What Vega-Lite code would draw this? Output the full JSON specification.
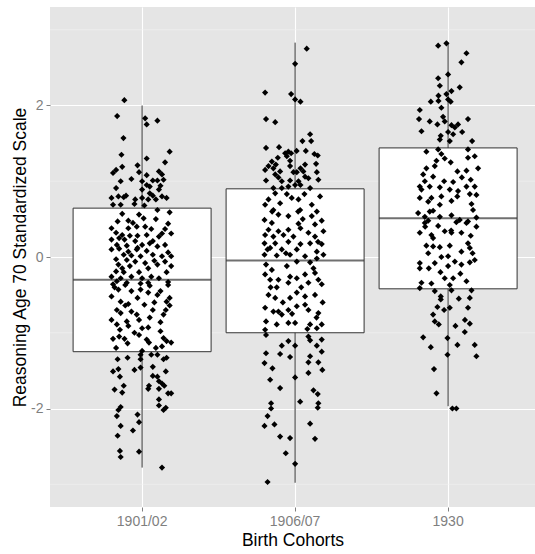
{
  "$schema": "https://vega.github.io/schema/vega-lite/v6.json",
  "width": 485,
  "height": 500,
  "autosize": {"type": "none"},
  "padding": {"left": 50, "top": 7, "right": 0, "bottom": 47},
  "background": "white",
  "config": {"view": {"fill": "#E5E5E5", "stroke": null}, "font": "Liberation Sans"},
  "datasets": {
    "minor": [{"m": -3}, {"m": -1}, {"m": 1}, {"m": 3}],
    "stats": [
      {"c": "1901/02", "lo": -2.78, "q1": -1.25, "med": -0.30, "q3": 0.645, "hi": 2.0},
      {"c": "1906/07", "lo": -2.98, "q1": -1.0, "med": -0.045, "q3": 0.9, "hi": 2.83},
      {"c": "1930", "lo": -1.97, "q1": -0.42, "med": 0.51, "q3": 1.44, "hi": 2.83}
    ],
    "pts": [
      {"c":"1901/02","j":-0.116,"v":2.07},{"c":"1901/02","j":-0.163,"v":1.86},{"c":"1901/02","j":0.02,"v":1.83},{"c":"1901/02","j":0.03,"v":1.75},{"c":"1901/02","j":0.10,"v":1.80},{"c":"1901/02","j":-0.122,"v":1.57},{"c":"1901/02","j":0.18,"v":1.39},{"c":"1901/02","j":-0.135,"v":1.35},{"c":"1901/02","j":0.03,"v":1.30},{"c":"1901/02","j":0.15,"v":1.25},{"c":"1901/02","j":-0.03,"v":1.21},{"c":"1901/02","j":-0.13,"v":1.19},{"c":"1901/02","j":-0.17,"v":1.15},{"c":"1901/02","j":-0.19,"v":1.11},{"c":"1901/02","j":-0.02,"v":1.12},{"c":"1901/02","j":0.11,"v":1.13},{"c":"1901/02","j":0.13,"v":1.09},{"c":"1901/02","j":0.03,"v":1.08},{"c":"1901/02","j":-0.14,"v":1.00},{"c":"1901/02","j":-0.07,"v":1.03},{"c":"1901/02","j":0.0,"v":1.00},{"c":"1901/02","j":0.07,"v":1.01},{"c":"1901/02","j":0.10,"v":1.01},{"c":"1901/02","j":0.14,"v":1.02},{"c":"1901/02","j":0.03,"v":0.95},{"c":"1901/02","j":0.05,"v":0.93},{"c":"1901/02","j":0.12,"v":0.94},{"c":"1901/02","j":-0.17,"v":0.91},{"c":"1901/02","j":0.0,"v":0.89},{"c":"1901/02","j":0.05,"v":0.84},{"c":"1901/02","j":0.11,"v":0.89},{"c":"1901/02","j":0.07,"v":0.81},{"c":"1901/02","j":0.13,"v":0.80},{"c":"1901/02","j":0.16,"v":0.78},{"c":"1901/02","j":-0.20,"v":0.78},{"c":"1901/02","j":-0.155,"v":0.80},{"c":"1901/02","j":-0.12,"v":0.79},{"c":"1901/02","j":-0.105,"v":0.81},{"c":"1901/02","j":0.0,"v":0.78},{"c":"1901/02","j":-0.045,"v":0.76},{"c":"1901/02","j":0.04,"v":0.76},{"c":"1901/02","j":0.09,"v":0.76},{"c":"1901/02","j":-0.19,"v":0.69},{"c":"1901/02","j":-0.14,"v":0.69},{"c":"1901/02","j":-0.05,"v":0.70},{"c":"1901/02","j":0.015,"v":0.68},{"c":"1901/02","j":0.10,"v":0.62},{"c":"1901/02","j":0.18,"v":0.59},
      {"c":"1901/02","j":-0.13,"v":0.57},{"c":"1901/02","j":-0.02,"v":0.56},{"c":"1901/02","j":0.01,"v":0.51},{"c":"1901/02","j":-0.16,"v":0.47},{"c":"1901/02","j":-0.09,"v":0.48},{"c":"1901/02","j":-0.20,"v":0.38},{"c":"1901/02","j":-0.09,"v":0.38},{"c":"1901/02","j":-0.035,"v":0.40},{"c":"1901/02","j":0.02,"v":0.40},{"c":"1901/02","j":0.06,"v":0.37},{"c":"1901/02","j":0.15,"v":0.37},{"c":"1901/02","j":-0.17,"v":0.32},{"c":"1901/02","j":-0.13,"v":0.29},{"c":"1901/02","j":-0.08,"v":0.28},{"c":"1901/02","j":-0.03,"v":0.28},{"c":"1901/02","j":0.03,"v":0.29},{"c":"1901/02","j":0.13,"v":0.31},{"c":"1901/02","j":0.19,"v":0.31},{"c":"1901/02","j":-0.20,"v":0.23},{"c":"1901/02","j":-0.115,"v":0.23},{"c":"1901/02","j":-0.045,"v":0.21},{"c":"1901/02","j":0.07,"v":0.21},{"c":"1901/02","j":-0.165,"v":0.16},{"c":"1901/02","j":-0.10,"v":0.15},{"c":"1901/02","j":0.0,"v":0.16},{"c":"1901/02","j":0.05,"v":0.18},{"c":"1901/02","j":0.10,"v":0.14},{"c":"1901/02","j":0.15,"v":0.16},{"c":"1901/02","j":-0.15,"v":0.11},{"c":"1901/02","j":-0.09,"v":0.07},{"c":"1901/02","j":-0.035,"v":0.10},{"c":"1901/02","j":0.03,"v":0.08},{"c":"1901/02","j":-0.20,"v":0.10},{"c":"1901/02","j":-0.12,"v":0.03},{"c":"1901/02","j":-0.07,"v":0.02},{"c":"1901/02","j":-0.01,"v":0.01},{"c":"1901/02","j":0.07,"v":0.03},{"c":"1901/02","j":0.13,"v":0.01},{"c":"1901/02","j":0.19,"v":0.01},{"c":"1901/02","j":-0.17,"v":-0.03},{"c":"1901/02","j":-0.10,"v":-0.04},{"c":"1901/02","j":-0.045,"v":-0.06},{"c":"1901/02","j":0.02,"v":-0.08},{"c":"1901/02","j":0.15,"v":-0.06},{"c":"1901/02","j":-0.155,"v":-0.10},{"c":"1901/02","j":-0.08,"v":-0.12},{"c":"1901/02","j":0.04,"v":-0.15},{"c":"1901/02","j":0.10,"v":-0.10},{"c":"1901/02","j":0.19,"v":-0.12},{"c":"1901/02","j":-0.17,"v":-0.19},{"c":"1901/02","j":-0.12,"v":-0.20},{"c":"1901/02","j":-0.02,"v":-0.20},{"c":"1901/02","j":0.16,"v":-0.20},{"c":"1901/02","j":-0.20,"v":-0.26},{"c":"1901/02","j":-0.14,"v":-0.28},{"c":"1901/02","j":-0.07,"v":-0.26},{"c":"1901/02","j":0.0,"v":-0.28},{"c":"1901/02","j":0.06,"v":-0.26},{"c":"1901/02","j":0.11,"v":-0.28},{"c":"1901/02","j":0.17,"v":-0.33},{"c":"1901/02","j":-0.165,"v":-0.32},{"c":"1901/02","j":-0.10,"v":-0.34},{"c":"1901/02","j":0.04,"v":-0.34},
      {"c":"1901/02","j":-0.19,"v":-0.36},{"c":"1901/02","j":-0.11,"v":-0.37},{"c":"1901/02","j":-0.01,"v":-0.35},{"c":"1901/02","j":0.05,"v":-0.38},{"c":"1901/02","j":0.17,"v":-0.37},{"c":"1901/02","j":-0.155,"v":-0.43},{"c":"1901/02","j":-0.07,"v":-0.45},{"c":"1901/02","j":-0.01,"v":-0.43},{"c":"1901/02","j":0.04,"v":-0.47},{"c":"1901/02","j":-0.20,"v":-0.52},{"c":"1901/02","j":-0.03,"v":-0.54},{"c":"1901/02","j":0.10,"v":-0.50},{"c":"1901/02","j":0.18,"v":-0.54},{"c":"1901/02","j":-0.14,"v":-0.59},{"c":"1901/02","j":-0.11,"v":-0.64},{"c":"1901/02","j":0.015,"v":-0.63},{"c":"1901/02","j":0.08,"v":-0.60},{"c":"1901/02","j":0.16,"v":-0.59},{"c":"1901/02","j":-0.165,"v":-0.70},{"c":"1901/02","j":-0.07,"v":-0.72},{"c":"1901/02","j":0.07,"v":-0.70},{"c":"1901/02","j":0.155,"v":-0.70},{"c":"1901/02","j":0.18,"v":-0.64},{"c":"1901/02","j":-0.14,"v":-0.74},{"c":"1901/02","j":-0.035,"v":-0.76},{"c":"1901/02","j":0.14,"v":-0.76},{"c":"1901/02","j":-0.20,"v":-0.83},{"c":"1901/02","j":-0.10,"v":-0.85},{"c":"1901/02","j":-0.02,"v":-0.83},{"c":"1901/02","j":0.12,"v":-0.86},{"c":"1901/02","j":-0.165,"v":-0.89},{"c":"1901/02","j":-0.09,"v":-0.91},{"c":"1901/02","j":0.0,"v":-0.94},{"c":"1901/02","j":0.04,"v":-0.93},{"c":"1901/02","j":-0.145,"v":-0.96},{"c":"1901/02","j":0.12,"v":-0.98},{"c":"1901/02","j":-0.02,"v":-1.03},{"c":"1901/02","j":-0.15,"v":-1.05},{"c":"1901/02","j":-0.115,"v":-1.08},{"c":"1901/02","j":0.03,"v":-1.09},{"c":"1901/02","j":0.045,"v":-1.13},{"c":"1901/02","j":0.14,"v":-1.07},{"c":"1901/02","j":0.16,"v":-1.11},{"c":"1901/02","j":0.19,"v":-1.13},{"c":"1901/02","j":-0.095,"v":-1.14},{"c":"1901/02","j":0.13,"v":-1.18},{"c":"1901/02","j":0.0,"v":-1.24},{"c":"1901/02","j":-0.19,"v":-1.08},
      {"c":"1901/02","j":-0.06,"v":0.45},{"c":"1901/02","j":0.09,"v":0.50},{"c":"1901/02","j":0.17,"v":0.44},{"c":"1901/02","j":-0.15,"v":0.25},{"c":"1901/02","j":0.11,"v":0.27},{"c":"1901/02","j":-0.03,"v":0.12},{"c":"1901/02","j":0.17,"v":0.06},{"c":"1901/02","j":-0.13,"v":-0.15},{"c":"1901/02","j":0.08,"v":-0.05},{"c":"1901/02","j":-0.18,"v":-0.40},{"c":"1901/02","j":0.12,"v":-0.45},{"c":"1901/02","j":-0.09,"v":-0.62},{"c":"1901/02","j":0.05,"v":-0.80},{"c":"1901/02","j":-0.05,"v":-1.00},{"c":"1901/02","j":0.09,"v":-1.20},{"c":"1901/02","j":-0.17,"v":-1.20},
      {"c":"1901/02","j":-0.01,"v":-1.29},{"c":"1901/02","j":0.06,"v":-1.29},{"c":"1901/02","j":0.10,"v":-1.29},{"c":"1901/02","j":-0.16,"v":-1.35},{"c":"1901/02","j":-0.095,"v":-1.33},{"c":"1901/02","j":-0.01,"v":-1.35},{"c":"1901/02","j":0.14,"v":-1.35},{"c":"1901/02","j":0.16,"v":-1.33},{"c":"1901/02","j":-0.19,"v":-1.51},{"c":"1901/02","j":-0.155,"v":-1.48},{"c":"1901/02","j":-0.05,"v":-1.49},{"c":"1901/02","j":-0.01,"v":-1.46},{"c":"1901/02","j":0.07,"v":-1.45},{"c":"1901/02","j":0.155,"v":-1.51},{"c":"1901/02","j":-0.145,"v":-1.58},{"c":"1901/02","j":0.07,"v":-1.57},{"c":"1901/02","j":0.10,"v":-1.58},{"c":"1901/02","j":0.11,"v":-1.64},{"c":"1901/02","j":0.13,"v":-1.67},{"c":"1901/02","j":0.145,"v":-1.70},{"c":"1901/02","j":0.045,"v":-1.70},{"c":"1901/02","j":-0.12,"v":-1.70},{"c":"1901/02","j":0.04,"v":-1.74},{"c":"1901/02","j":-0.18,"v":-1.75},{"c":"1901/02","j":-0.13,"v":-1.79},{"c":"1901/02","j":0.11,"v":-1.74},{"c":"1901/02","j":0.17,"v":-1.80},{"c":"1901/02","j":0.19,"v":-1.80},{"c":"1901/02","j":0.11,"v":-1.88},{"c":"1901/02","j":0.11,"v":-1.96},{"c":"1901/02","j":0.155,"v":-1.99},{"c":"1901/02","j":0.14,"v":-2.02},{"c":"1901/02","j":-0.14,"v":-1.98},{"c":"1901/02","j":-0.155,"v":-2.02},{"c":"1901/02","j":-0.165,"v":-2.10},{"c":"1901/02","j":-0.03,"v":-2.08},{"c":"1901/02","j":-0.02,"v":-2.18},{"c":"1901/02","j":-0.14,"v":-2.23},{"c":"1901/02","j":-0.06,"v":-2.29},{"c":"1901/02","j":-0.16,"v":-2.36},{"c":"1901/02","j":-0.145,"v":-2.56},{"c":"1901/02","j":-0.14,"v":-2.64},{"c":"1901/02","j":-0.02,"v":-2.57},{"c":"1901/02","j":0.13,"v":-2.78},

      {"c":"1906/07","j":0.076,"v":2.75},{"c":"1906/07","j":0.0,"v":2.55},{"c":"1906/07","j":-0.196,"v":2.17},{"c":"1906/07","j":-0.026,"v":2.15},{"c":"1906/07","j":0.0,"v":2.08},{"c":"1906/07","j":0.035,"v":2.05},{"c":"1906/07","j":-0.19,"v":1.82},{"c":"1906/07","j":-0.13,"v":1.78},{"c":"1906/07","j":0.098,"v":1.62},{"c":"1906/07","j":0.048,"v":1.53},{"c":"1906/07","j":0.105,"v":1.53},{"c":"1906/07","j":-0.19,"v":1.44},{"c":"1906/07","j":-0.105,"v":1.45},{"c":"1906/07","j":0.07,"v":1.40},{"c":"1906/07","j":0.01,"v":1.40},{"c":"1906/07","j":-0.065,"v":1.37},{"c":"1906/07","j":-0.044,"v":1.39},{"c":"1906/07","j":-0.026,"v":1.37},{"c":"1906/07","j":0.126,"v":1.36},{"c":"1906/07","j":0.148,"v":1.34},{"c":"1906/07","j":-0.113,"v":1.31},{"c":"1906/07","j":-0.054,"v":1.33},{"c":"1906/07","j":-0.152,"v":1.26},{"c":"1906/07","j":-0.033,"v":1.27},{"c":"1906/07","j":0.065,"v":1.22},{"c":"1906/07","j":0.137,"v":1.23},{"c":"1906/07","j":-0.174,"v":1.20},{"c":"1906/07","j":-0.126,"v":1.22},{"c":"1906/07","j":-0.196,"v":1.15},{"c":"1906/07","j":-0.142,"v":1.17},{"c":"1906/07","j":-0.098,"v":1.13},{"c":"1906/07","j":-0.033,"v":1.20},{"c":"1906/07","j":0.035,"v":1.17},{"c":"1906/07","j":-0.011,"v":1.12},{"c":"1906/07","j":0.011,"v":1.12},{"c":"1906/07","j":0.054,"v":1.13},{"c":"1906/07","j":0.142,"v":1.12},{"c":"1906/07","j":-0.13,"v":1.09},{"c":"1906/07","j":-0.109,"v":1.05},{"c":"1906/07","j":0.065,"v":1.06},{"c":"1906/07","j":0.087,"v":1.04},{"c":"1906/07","j":-0.19,"v":1.01},{"c":"1906/07","j":-0.087,"v":1.00},{"c":"1906/07","j":-0.033,"v":1.01},{"c":"1906/07","j":0.022,"v":1.00},{"c":"1906/07","j":0.152,"v":1.02},{"c":"1906/07","j":0.035,"v":0.95},{"c":"1906/07","j":-0.044,"v":0.93},{"c":"1906/07","j":-0.087,"v":0.91},{"c":"1906/07","j":-0.142,"v":0.91},{"c":"1906/07","j":0.0,"v":0.95},{"c":"1906/07","j":0.098,"v":0.91},
      {"c":"1906/07","j":-0.13,"v":0.84},{"c":"1906/07","j":-0.054,"v":0.83},{"c":"1906/07","j":0.061,"v":0.83},{"c":"1906/07","j":0.163,"v":0.80},{"c":"1906/07","j":-0.174,"v":0.76},{"c":"1906/07","j":-0.022,"v":0.78},{"c":"1906/07","j":0.022,"v":0.76},{"c":"1906/07","j":-0.098,"v":0.71},{"c":"1906/07","j":-0.196,"v":0.69},{"c":"1906/07","j":0.109,"v":0.69},{"c":"1906/07","j":-0.142,"v":0.62},{"c":"1906/07","j":0.033,"v":0.62},{"c":"1906/07","j":0.142,"v":0.60},{"c":"1906/07","j":-0.109,"v":0.56},{"c":"1906/07","j":-0.044,"v":0.54},{"c":"1906/07","j":0.109,"v":0.54},{"c":"1906/07","j":0.174,"v":0.48},{"c":"1906/07","j":-0.2,"v":0.49},{"c":"1906/07","j":-0.152,"v":0.45},{"c":"1906/07","j":0.022,"v":0.44},{"c":"1906/07","j":0.13,"v":0.43},{"c":"1906/07","j":-0.174,"v":0.36},{"c":"1906/07","j":-0.109,"v":0.34},{"c":"1906/07","j":-0.044,"v":0.36},{"c":"1906/07","j":0.035,"v":0.38},{"c":"1906/07","j":0.087,"v":0.32},{"c":"1906/07","j":0.185,"v":0.34},{"c":"1906/07","j":-0.196,"v":0.29},{"c":"1906/07","j":-0.142,"v":0.27},{"c":"1906/07","j":-0.076,"v":0.29},{"c":"1906/07","j":-0.011,"v":0.27},{"c":"1906/07","j":0.13,"v":0.27},{"c":"1906/07","j":-0.2,"v":0.18},{"c":"1906/07","j":-0.13,"v":0.18},{"c":"1906/07","j":-0.044,"v":0.20},{"c":"1906/07","j":0.035,"v":0.17},{"c":"1906/07","j":0.098,"v":0.18},{"c":"1906/07","j":0.174,"v":0.17},{"c":"1906/07","j":-0.163,"v":0.12},{"c":"1906/07","j":-0.087,"v":0.10},{"c":"1906/07","j":0.011,"v":0.10},{"c":"1906/07","j":0.142,"v":0.07},{"c":"1906/07","j":-0.2,"v":0.03},{"c":"1906/07","j":-0.12,"v":0.02},{"c":"1906/07","j":-0.033,"v":0.03},{"c":"1906/07","j":0.065,"v":0.01},{"c":"1906/07","j":0.185,"v":0.03},
      {"c":"1906/07","j":-0.19,"v":-0.10},{"c":"1906/07","j":-0.054,"v":-0.12},{"c":"1906/07","j":0.011,"v":-0.06},{"c":"1906/07","j":0.098,"v":-0.07},{"c":"1906/07","j":0.142,"v":-0.02},{"c":"1906/07","j":-0.152,"v":-0.17},{"c":"1906/07","j":-0.196,"v":-0.23},{"c":"1906/07","j":-0.163,"v":-0.30},{"c":"1906/07","j":-0.109,"v":-0.30},{"c":"1906/07","j":-0.033,"v":-0.26},{"c":"1906/07","j":0.011,"v":-0.28},{"c":"1906/07","j":0.065,"v":-0.23},{"c":"1906/07","j":0.152,"v":-0.30},{"c":"1906/07","j":0.13,"v":-0.21},{"c":"1906/07","j":-0.044,"v":-0.34},{"c":"1906/07","j":0.087,"v":-0.34},{"c":"1906/07","j":0.174,"v":-0.36},{"c":"1906/07","j":-0.174,"v":-0.50},{"c":"1906/07","j":-0.13,"v":-0.54},{"c":"1906/07","j":-0.033,"v":-0.54},{"c":"1906/07","j":0.011,"v":-0.47},{"c":"1906/07","j":0.065,"v":-0.52},{"c":"1906/07","j":0.13,"v":-0.50},{"c":"1906/07","j":-0.196,"v":-0.67},{"c":"1906/07","j":-0.142,"v":-0.72},{"c":"1906/07","j":-0.087,"v":-0.76},{"c":"1906/07","j":-0.044,"v":-0.70},{"c":"1906/07","j":0.011,"v":-0.65},{"c":"1906/07","j":0.065,"v":-0.63},{"c":"1906/07","j":0.087,"v":-0.70},{"c":"1906/07","j":0.152,"v":-0.74},{"c":"1906/07","j":-0.109,"v":-0.72},{"c":"1906/07","j":-0.19,"v":-0.85},{"c":"1906/07","j":-0.12,"v":-0.89},{"c":"1906/07","j":-0.044,"v":-0.87},{"c":"1906/07","j":0.0,"v":-0.87},{"c":"1906/07","j":0.098,"v":-0.89},{"c":"1906/07","j":0.174,"v":-0.89},{"c":"1906/07","j":0.142,"v":-0.94},{"c":"1906/07","j":-0.196,"v":-0.96},
      {"c":"1906/07","j":-0.15,"v":0.60},{"c":"1906/07","j":0.05,"v":0.50},{"c":"1906/07","j":0.15,"v":0.20},{"c":"1906/07","j":-0.06,"v":0.05},{"c":"1906/07","j":0.12,"v":-0.15},{"c":"1906/07","j":-0.12,"v":-0.40},{"c":"1906/07","j":0.04,"v":-0.40},{"c":"1906/07","j":0.18,"v":-0.60},{"c":"1906/07","j":-0.08,"v":-0.60},{"c":"1906/07","j":0.14,"v":-0.80},{"c":"1906/07","j":-0.16,"v":-0.40},{"c":"1906/07","j":0.08,"v":-0.95},{"c":"1906/07","j":-0.02,"v":-0.75},{"c":"1906/07","j":0.02,"v":0.60},{"c":"1906/07","j":-0.18,"v":0.10},
      {"c":"1906/07","j":-0.19,"v":-1.03},{"c":"1906/07","j":0.087,"v":-1.05},{"c":"1906/07","j":0.098,"v":-1.10},{"c":"1906/07","j":0.174,"v":-1.09},{"c":"1906/07","j":-0.044,"v":-1.11},{"c":"1906/07","j":0.0,"v":-1.17},{"c":"1906/07","j":-0.087,"v":-1.17},{"c":"1906/07","j":0.142,"v":-1.17},{"c":"1906/07","j":0.174,"v":-1.25},{"c":"1906/07","j":-0.19,"v":-1.27},{"c":"1906/07","j":-0.098,"v":-1.28},{"c":"1906/07","j":-0.033,"v":-1.32},{"c":"1906/07","j":0.098,"v":-1.31},{"c":"1906/07","j":-0.2,"v":-1.40},{"c":"1906/07","j":0.087,"v":-1.39},{"c":"1906/07","j":0.152,"v":-1.39},{"c":"1906/07","j":-0.148,"v":-1.47},{"c":"1906/07","j":0.178,"v":-1.49},{"c":"1906/07","j":0.087,"v":-1.53},{"c":"1906/07","j":0.0,"v":-1.59},{"c":"1906/07","j":-0.163,"v":-1.62},{"c":"1906/07","j":-0.098,"v":-1.73},{"c":"1906/07","j":0.12,"v":-1.76},{"c":"1906/07","j":0.148,"v":-1.81},{"c":"1906/07","j":0.033,"v":-1.91},{"c":"1906/07","j":-0.157,"v":-1.93},{"c":"1906/07","j":0.152,"v":-1.93},{"c":"1906/07","j":-0.157,"v":-2.00},{"c":"1906/07","j":0.148,"v":-1.99},{"c":"1906/07","j":-0.18,"v":-2.10},{"c":"1906/07","j":-0.2,"v":-2.23},{"c":"1906/07","j":-0.135,"v":-2.21},{"c":"1906/07","j":0.098,"v":-2.20},{"c":"1906/07","j":-0.098,"v":-2.37},{"c":"1906/07","j":-0.033,"v":-2.39},{"c":"1906/07","j":0.13,"v":-2.40},{"c":"1906/07","j":-0.061,"v":-2.59},{"c":"1906/07","j":0.0,"v":-2.73},{"c":"1906/07","j":-0.18,"v":-2.97},

      {"c":"1930","j":-0.065,"v":2.79},{"c":"1930","j":-0.011,"v":2.82},{"c":"1930","j":0.12,"v":2.69},{"c":"1930","j":0.087,"v":2.57},{"c":"1930","j":0.0,"v":2.41},{"c":"1930","j":-0.065,"v":2.36},{"c":"1930","j":-0.054,"v":2.26},{"c":"1930","j":0.076,"v":2.24},{"c":"1930","j":0.022,"v":2.19},{"c":"1930","j":-0.011,"v":2.15},{"c":"1930","j":-0.063,"v":2.13},{"c":"1930","j":-0.113,"v":2.05},{"c":"1930","j":-0.063,"v":2.06},{"c":"1930","j":0.0,"v":2.08},{"c":"1930","j":0.017,"v":2.05},{"c":"1930","j":-0.044,"v":1.97},{"c":"1930","j":-0.185,"v":1.94},{"c":"1930","j":-0.033,"v":1.85},{"c":"1930","j":-0.19,"v":1.82},{"c":"1930","j":-0.12,"v":1.79},{"c":"1930","j":-0.022,"v":1.79},{"c":"1930","j":0.13,"v":1.82},{"c":"1930","j":-0.07,"v":1.75},{"c":"1930","j":0.022,"v":1.74},{"c":"1930","j":0.065,"v":1.75},{"c":"1930","j":0.044,"v":1.71},{"c":"1930","j":-0.174,"v":1.66},{"c":"1930","j":0.0,"v":1.65},{"c":"1930","j":0.033,"v":1.62},{"c":"1930","j":0.092,"v":1.65},{"c":"1930","j":-0.048,"v":1.60},{"c":"1930","j":-0.054,"v":1.55},{"c":"1930","j":0.011,"v":1.53},{"c":"1930","j":0.157,"v":1.53},{"c":"1930","j":-0.065,"v":1.42},{"c":"1930","j":-0.142,"v":1.39},{"c":"1930","j":0.13,"v":1.42},
      {"c":"1930","j":-0.044,"v":1.36},{"c":"1930","j":-0.022,"v":1.30},{"c":"1930","j":-0.076,"v":1.27},{"c":"1930","j":0.017,"v":1.25},{"c":"1930","j":0.13,"v":1.31},{"c":"1930","j":0.174,"v":1.33},{"c":"1930","j":0.196,"v":1.17},{"c":"1930","j":-0.142,"v":1.17},{"c":"1930","j":-0.087,"v":1.20},{"c":"1930","j":0.061,"v":1.13},{"c":"1930","j":0.12,"v":1.14},{"c":"1930","j":-0.163,"v":1.09},{"c":"1930","j":-0.098,"v":1.06},{"c":"1930","j":-0.152,"v":1.00},{"c":"1930","j":-0.026,"v":1.00},{"c":"1930","j":0.033,"v":0.99},{"c":"1930","j":0.148,"v":1.02},{"c":"1930","j":-0.185,"v":0.93},{"c":"1930","j":-0.12,"v":0.93},{"c":"1930","j":-0.054,"v":0.92},{"c":"1930","j":0.12,"v":0.93},{"c":"1930","j":0.174,"v":0.93},{"c":"1930","j":0.011,"v":0.89},{"c":"1930","j":-0.174,"v":0.89},{"c":"1930","j":0.065,"v":0.87},{"c":"1930","j":0.142,"v":0.83},{"c":"1930","j":0.185,"v":0.82},{"c":"1930","j":-0.185,"v":0.78},{"c":"1930","j":-0.109,"v":0.78},{"c":"1930","j":-0.044,"v":0.80},{"c":"1930","j":0.022,"v":0.74},{"c":"1930","j":-0.13,"v":0.73},{"c":"1930","j":-0.054,"v":0.69},{"c":"1930","j":0.153,"v":0.70},{"c":"1930","j":-0.098,"v":0.61},{"c":"1930","j":-0.196,"v":0.58},{"c":"1930","j":0.022,"v":0.55},{"c":"1930","j":0.163,"v":0.62},{"c":"1930","j":-0.152,"v":0.53},{"c":"1930","j":-0.054,"v":0.53},{"c":"1930","j":0.076,"v":0.49},{"c":"1930","j":0.185,"v":0.52},{"c":"1930","j":0.13,"v":0.47},{"c":"1930","j":-0.13,"v":0.48},
      {"c":"1930","j":-0.152,"v":0.45},{"c":"1930","j":-0.065,"v":0.41},{"c":"1930","j":0.054,"v":0.46},{"c":"1930","j":0.12,"v":0.45},{"c":"1930","j":0.185,"v":0.40},{"c":"1930","j":-0.185,"v":0.32},{"c":"1930","j":-0.109,"v":0.29},{"c":"1930","j":-0.022,"v":0.34},{"c":"1930","j":0.022,"v":0.32},{"c":"1930","j":0.087,"v":0.32},{"c":"1930","j":0.148,"v":0.28},{"c":"1930","j":-0.098,"v":0.25},{"c":"1930","j":-0.142,"v":0.15},{"c":"1930","j":-0.098,"v":0.14},{"c":"1930","j":-0.054,"v":0.13},{"c":"1930","j":0.011,"v":0.15},{"c":"1930","j":0.13,"v":0.18},{"c":"1930","j":-0.13,"v":0.05},{"c":"1930","j":0.087,"v":0.07},{"c":"1930","j":0.142,"v":0.12},{"c":"1930","j":-0.044,"v":0.00},{"c":"1930","j":0.0,"v":0.01},{"c":"1930","j":0.044,"v":-0.06},{"c":"1930","j":-0.185,"v":-0.08},{"c":"1930","j":-0.087,"v":-0.08},{"c":"1930","j":0.0,"v":-0.12},{"c":"1930","j":0.087,"v":-0.10},{"c":"1930","j":0.142,"v":-0.07},{"c":"1930","j":0.174,"v":-0.04},{"c":"1930","j":-0.185,"v":-0.15},{"c":"1930","j":-0.126,"v":-0.15},{"c":"1930","j":-0.022,"v":-0.28},{"c":"1930","j":0.033,"v":-0.28},{"c":"1930","j":-0.174,"v":-0.34},{"c":"1930","j":-0.109,"v":-0.35},{"c":"1930","j":0.011,"v":-0.37},{"c":"1930","j":0.12,"v":-0.32},{"c":"1930","j":-0.185,"v":-0.41},
      {"c":"1930","j":0.09,"v":1.05},{"c":"1930","j":-0.12,"v":0.60},{"c":"1930","j":0.02,"v":0.35},{"c":"1930","j":0.16,"v":0.05},{"c":"1930","j":-0.05,"v":-0.20},{"c":"1930","j":0.08,"v":-0.22},{"c":"1930","j":-0.15,"v":0.40},{"c":"1930","j":0.06,"v":0.80},
      {"c":"1930","j":-0.087,"v":-0.45},{"c":"1930","j":0.022,"v":-0.44},{"c":"1930","j":0.153,"v":-0.44},{"c":"1930","j":-0.048,"v":-0.52},{"c":"1930","j":-0.048,"v":-0.56},{"c":"1930","j":0.07,"v":-0.55},{"c":"1930","j":0.142,"v":-0.54},{"c":"1930","j":-0.07,"v":-0.66},{"c":"1930","j":-0.026,"v":-0.70},{"c":"1930","j":0.011,"v":-0.67},{"c":"1930","j":0.13,"v":-0.67},{"c":"1930","j":-0.098,"v":-0.76},{"c":"1930","j":-0.087,"v":-0.85},{"c":"1930","j":-0.061,"v":-0.89},{"c":"1930","j":0.11,"v":-0.83},{"c":"1930","j":0.142,"v":-0.88},{"c":"1930","j":0.048,"v":-0.91},{"c":"1930","j":0.109,"v":-0.99},{"c":"1930","j":-0.163,"v":-1.06},{"c":"1930","j":-0.004,"v":-1.07},{"c":"1930","j":0.061,"v":-1.16},{"c":"1930","j":0.174,"v":-1.16},{"c":"1930","j":-0.113,"v":-1.19},{"c":"1930","j":-0.004,"v":-1.29},{"c":"1930","j":0.185,"v":-1.31},{"c":"1930","j":-0.092,"v":-1.48},{"c":"1930","j":-0.076,"v":-1.80},{"c":"1930","j":0.028,"v":-2.0},{"c":"1930","j":0.054,"v":-2.0}
    ]
  },
  "layer": [
    {
      "data": {"name": "minor"},
      "mark": {"type": "rule", "color": "#F2F2F2", "strokeWidth": 0.6},
      "encoding": {
        "y": {
          "field": "m", "type": "quantitative",
          "scale": {"domain": [-3.3, 3.3], "nice": false, "zero": false},
          "axis": {
            "values": [-2, 0, 2], "format": "d", "grid": true, "gridColor": "white", "gridWidth": 1.1,
            "domain": false, "tickColor": "#7F7F7F", "tickSize": 4, "tickWidth": 1,
            "labelColor": "#7F7F7F", "labelFontSize": 14, "labelPadding": 3,
            "labelExpr": "datum.value == -2 ? '-2' : datum.label",
            "title": "Reasoning Age 70 Standardized Scale", "titleFontSize": 17.5,
            "titleFontWeight": "normal", "titleColor": "black", "titlePadding": 1
          }
        }
      }
    },
    {
      "data": {"name": "stats"},
      "mark": {"type": "rule", "color": "#333333", "strokeWidth": 1},
      "encoding": {
        "x": {
          "field": "c", "type": "nominal", "sort": null,
          "scale": {"paddingInner": 0, "paddingOuter": 0.085, "align": 0.6},
          "axis": {
            "grid": true, "gridColor": "white", "gridWidth": 1.1, "bandPosition": 0.5,
            "domain": false, "tickColor": "#7F7F7F", "tickSize": 4, "tickWidth": 1,
            "labelColor": "#7F7F7F", "labelFontSize": 14, "labelAngle": 0, "labelPadding": 3,
            "title": "Birth Cohorts", "titleFontSize": 17.5, "titleFontWeight": "normal",
            "titleColor": "black", "titlePadding": 3
          }
        },
        "y": {"field": "lo", "type": "quantitative"},
        "y2": {"field": "hi"}
      }
    },
    {
      "data": {"name": "stats"},
      "mark": {"type": "bar", "fill": "white", "stroke": "#333333", "strokeWidth": 1, "width": 138},
      "encoding": {
        "x": {"field": "c", "type": "nominal", "sort": null},
        "y": {"field": "q1", "type": "quantitative"},
        "y2": {"field": "q3"}
      }
    },
    {
      "data": {"name": "stats"},
      "mark": {"type": "tick", "color": "#333333", "thickness": 2, "size": 138, "orient": "horizontal"},
      "encoding": {
        "x": {"field": "c", "type": "nominal", "sort": null},
        "y": {"field": "med", "type": "quantitative"}
      }
    },
    {
      "data": {"name": "pts"},
      "mark": {"type": "point", "shape": "diamond", "filled": true, "color": "black", "size": 38, "opacity": 1},
      "encoding": {
        "x": {"field": "c", "type": "nominal", "sort": null},
        "xOffset": {"field": "j", "type": "quantitative", "scale": {"domain": [-0.5, 0.5], "range": [0, 153]}},
        "y": {"field": "v", "type": "quantitative"}
      }
    }
  ]
}
